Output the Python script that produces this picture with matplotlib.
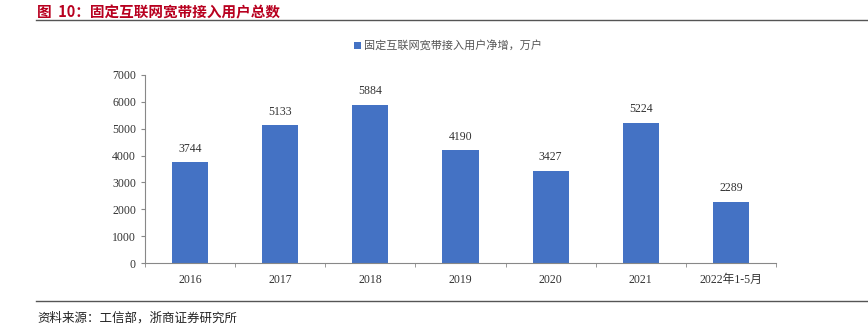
import numpy as np
import matplotlib.pyplot as plt

plt.rcParams['font.family'] = ['Liberation Serif', 'Noto Sans CJK SC', 'DejaVu Sans']

categories = ['2016', '2017', '2018', '2019', '2020', '2021', '2022年1-5月']
values = [3744, 5133, 5884, 4190, 3427, 5224, 2289]
legend_label = '固定互联网宽带接入用户净增，万户'
title = '图  10：固定互联网宽带接入用户总数'
source = '资料来源：工信部，浙商证券研究所'

W, H = 868, 333
fig = plt.figure(figsize=(W / 100, H / 100), dpi=100)

ax = fig.add_axes([145 / W, 1 - 263 / H, (776 - 145) / W, (263 - 75) / H])
x = np.arange(len(categories))
bars = ax.bar(x, values, width=0.4, color='#4472C4', label=legend_label, zorder=2)
for xi, v in zip(x, values):
    ax.text(xi, v + 280, str(v), ha='center', va='bottom', fontsize=8.5, color='#333333')

ax.set_xlim(-0.5, len(categories) - 0.5)
ax.set_ylim(0, 7000)
ax.set_yticks(np.arange(0, 7001, 1000))
ax.tick_params(axis='y', labelsize=8.5, colors='#333333', length=3, color='#888888')
ax.set_xticks(x)
ax.set_xticklabels(categories, fontsize=8.5, color='#333333', family=['Liberation Serif', 'Noto Sans CJK SC'])
ax.tick_params(axis='x', length=0, pad=8)
ax.set_xticks(np.arange(-0.5, len(categories)), minor=True)
ax.tick_params(axis='x', which='minor', length=3, color='#888888')
for s in ['top', 'right']:
    ax.spines[s].set_visible(False)
for s in ['left', 'bottom']:
    ax.spines[s].set_color('#888888')
    ax.spines[s].set_linewidth(0.8)

ax.legend(loc='center', bbox_to_anchor=(448 / W, 1 - 46 / H), bbox_transform=fig.transFigure,
          frameon=False, handlelength=0.6, handleheight=0.6, handletextpad=0.3,
          prop={'family': ['Noto Sans CJK SC'], 'size': 8}, labelcolor='#555555')

fig.text(37 / W, 1 - 4 / H, title, fontsize=10.5, fontweight='bold', color='#B8001F',
         ha='left', va='top', family=['Noto Sans CJK SC', 'DejaVu Sans'])
fig.add_artist(plt.Line2D([36 / W, 1], [1 - 19.5 / H] * 2, color='#555555', lw=1))
fig.add_artist(plt.Line2D([36 / W, 1], [1 - 300.5 / H] * 2, color='#555555', lw=1))
fig.text(37 / W, 1 - 318 / H, source, fontsize=9, color='#222222', ha='left', va='center',
         family=['Noto Sans CJK SC', 'DejaVu Sans'])

fig.savefig('out.png', dpi=100)
